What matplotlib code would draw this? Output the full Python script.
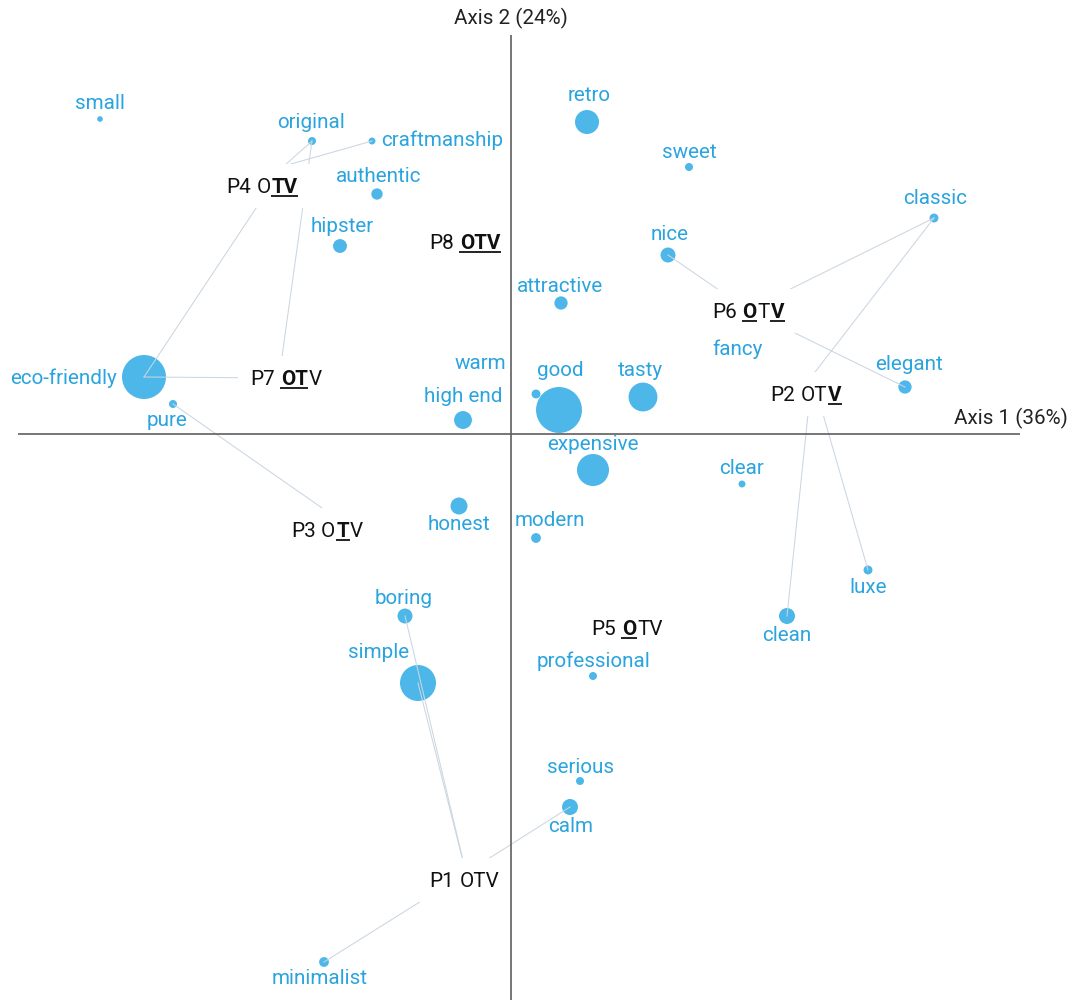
import numpy as np
import matplotlib
matplotlib.use('Agg')
import matplotlib.pyplot as plt
from matplotlib.transforms import offset_copy
from matplotlib.patches import Rectangle

plt.rcParams['font.family'] = ['Roboto', 'DejaVu Sans']

# ---------------- data ----------------
attributes = ['small', 'original', 'craftmanship', 'authentic', 'hipster', 'retro', 'sweet',
              'classic', 'nice', 'attractive', 'fancy', 'elegant', 'eco-friendly', 'pure',
              'warm', 'high end', 'good', 'tasty', 'expensive', 'clear', 'honest', 'modern',
              'luxe', 'clean', 'boring', 'simple', 'professional', 'serious', 'calm', 'minimalist']
attr_x = [-4.11, -1.99, -1.39, -1.34, -1.71, 0.76, 1.78, 4.23, 1.57, 0.50, 2.27, 3.94, -3.67, -3.38,
          0.25, -0.48, 0.48, 1.32, 0.82, 2.31, -0.52, 0.25, 3.57, 2.76, -1.06, -0.93, 0.82, 0.69,
          0.59, -1.87]
attr_y = [3.15, 2.93, 2.93, 2.40, 1.88, 3.12, 2.67, 2.16, 1.79, 1.31, 0.66, 0.47, 0.57, 0.30,
          0.40, 0.14, 0.24, 0.37, -0.36, -0.50, -0.72, -1.04, -1.36, -1.82, -1.82, -2.49, -2.42,
          -3.47, -3.73, -5.28]
attr_freq = [2, 4, 3, 8, 12, 36, 4, 5, 14, 11, 0, 11, 121, 4, 5, 20, 132, 52, 64, 3, 18, 6, 5, 16,
             14, 81, 4, 4, 16, 6]

products = ['P1', 'P2', 'P3', 'P4', 'P5', 'P6', 'P7', 'P8']
prod_x = [-0.45, 3.01, -1.66, -2.27, 1.16, 2.37, -2.32, -0.46]
prod_y = [-4.39, 0.58, -0.90, 2.68, -1.94, 1.24, 0.56, 1.92]
prod_letters = 'OTV'
prod_bold = ['', 'V', 'T', 'TV', 'O', 'OV', 'OT', 'OTV']

link_product = ['P1', 'P1', 'P1', 'P1', 'P2', 'P2', 'P2', 'P3', 'P4', 'P4', 'P4',
                'P6', 'P6', 'P6', 'P7', 'P7']
link_attribute = ['boring', 'simple', 'calm', 'minimalist', 'classic', 'clean', 'luxe', 'pure',
                  'original', 'craftmanship', 'eco-friendly', 'nice', 'classic', 'elegant',
                  'original', 'eco-friendly']

axis1_title = 'Axis 1 (36%)'
axis2_title = 'Axis 2 (24%)'

# ---------------- style / layout ----------------
DPI = 100
FS = 14.9
DOT = '#4DB7E9'
TXT = '#2AA4DF'
LINE = '#CAD6E2'
AXC = '#5F5F5F'

# label offsets (pixels, right / down) and horizontal alignment for attribute labels
attr_label = {
    'small': (0, -15, 'center'), 'original': (-1, -18, 'center'),
    'craftmanship': (9, -1, 'left'), 'authentic': (2, -17, 'center'),
    'hipster': (2, -19, 'center'), 'retro': (2, -26, 'center'), 'sweet': (0, -14, 'center'),
    'classic': (1, -19, 'center'), 'nice': (2, -20, 'center'), 'attractive': (-1, -16, 'center'),
    'fancy': (0, -19, 'center'), 'elegant': (4, -22, 'center'),
    'eco-friendly': (-27, 1, 'right'), 'pure': (-6, 17, 'center'), 'warm': (-56, -30, 'center'),
    'high end': (0, -23, 'center'), 'good': (1, -39, 'center'), 'tasty': (-3, -26, 'center'),
    'expensive': (0, -25, 'center'), 'clear': (0, -15, 'center'), 'honest': (0, 19, 'center'),
    'modern': (14, -17, 'center'), 'luxe': (0, 18, 'center'), 'clean': (0, 20, 'center'),
    'boring': (-1, -17, 'center'), 'simple': (-39, -30, 'center'),
    'professional': (0, -15, 'center'), 'serious': (0, -13, 'center'), 'calm': (1, 20, 'center'),
    'minimalist': (-4, 17, 'center'),
}
prod_label_off = {'P1': (-2, 7), 'P2': (-6, 18), 'P3': (-18, 6), 'P4': (-22, 20),
                  'P5': (0, 0), 'P6': (0, 1), 'P7': (7, 0), 'P8': (0, 0)}

fig = plt.figure(figsize=(10.75, 10), dpi=DPI)
ax = fig.add_axes([0, 0, 1, 1])
ax.set_xlim(-5.11, 5.64)
ax.set_ylim(-5.66, 4.34)
ax.axis('off')

# axes
ax.hlines(0, -4.93, 5.09, color=AXC, lw=1.2, zorder=4)
ax.vlines(0, -5.70, 3.99, color=AXC, lw=1.2, zorder=4)
ax.text(0, 4.16, axis2_title, ha='center', va='center', fontsize=FS, color='#222222')
ax.text(5.57, 0.16, axis1_title, ha='right', va='center', fontsize=FS, color='#222222')

# dots
radius_px = 2 * np.sqrt(np.array(attr_freq, dtype=float))
sizes = (2 * radius_px * 72 / DPI) ** 2
ax.scatter(attr_x, attr_y, s=sizes, color=DOT, linewidths=0, zorder=1)

# links
for p, a in zip(link_product, link_attribute):
    i = products.index(p)
    j = attributes.index(a)
    ax.plot([attr_x[j], prod_x[i]], [attr_y[j], prod_y[i]], color=LINE, lw=0.75, zorder=2)

# attribute labels
for name, x, y in zip(attributes, attr_x, attr_y):
    dx, dy, ha = attr_label[name]
    tr = offset_copy(ax.transData, fig=fig, x=dx, y=-dy, units='dots')
    ax.text(x, y, name, transform=tr, ha=ha, va='center', fontsize=FS, color=TXT, zorder=5)

# product labels with bold / underlined letters
fig.canvas.draw()
renderer = fig.canvas.get_renderer()


def tw(s, bold=False):
    t = ax.text(0, 0, s, fontsize=FS, fontweight='bold' if bold else 'normal')
    w = t.get_window_extent(renderer).width
    t.remove()
    return w


cap = 0.711 * FS * DPI / 72
inv = ax.transData.inverted()

for p, x, y, bl in zip(products, prod_x, prod_y, prod_bold):
    runs = [(p, False)]
    for ch in prod_letters:
        b = ch in bl
        if len(runs) > 1 and runs[-1][1] == b:
            runs[-1] = (runs[-1][0] + ch, b)
        else:
            runs.append((ch, b))
    widths = [tw(s, b) for s, b in runs]
    gaps = []
    for k in range(1, len(runs)):
        a_last = runs[k - 1][0][-1]
        b_first = runs[k][0][0]
        sep = ' ' if k == 1 else ''
        gaps.append(tw(a_last + sep + b_first) - tw(a_last) - tw(b_first) + (1.0 if k > 1 else 0.5))
    total = sum(widths) + sum(gaps)
    px, py = ax.transData.transform((x, y))
    odx, ody = prod_label_off[p]
    cx, cy = px + odx, py - ody
    left = cx - total / 2
    base = cy - cap / 2
    # white box behind label
    (bx0, by0) = inv.transform((left - 12, cy - 22))
    (bx1, by1) = inv.transform((left + total + 12, cy + 22))
    ax.add_patch(Rectangle((bx0, by0), bx1 - bx0, by1 - by0, facecolor='white',
                           edgecolor='none', zorder=3))
    xc = left
    for k, ((s, b), w) in enumerate(zip(runs, widths)):
        if k > 0:
            xc += gaps[k - 1]
        tx, ty = inv.transform((xc, base))
        ax.text(tx, ty, s, ha='left', va='baseline', fontsize=FS,
                fontweight='bold' if b else 'normal', color='#111111', zorder=6)
        if b:
            ux0, uy = inv.transform((xc - 0.5, base - 3))
            ux1, _ = inv.transform((xc + w + 0.5, base - 3))
            ax.plot([ux0, ux1], [uy, uy], color='#111111', lw=1.3, zorder=6,
                    solid_capstyle='butt')
        xc += w

fig.savefig('out.png', dpi=DPI, facecolor='white')
